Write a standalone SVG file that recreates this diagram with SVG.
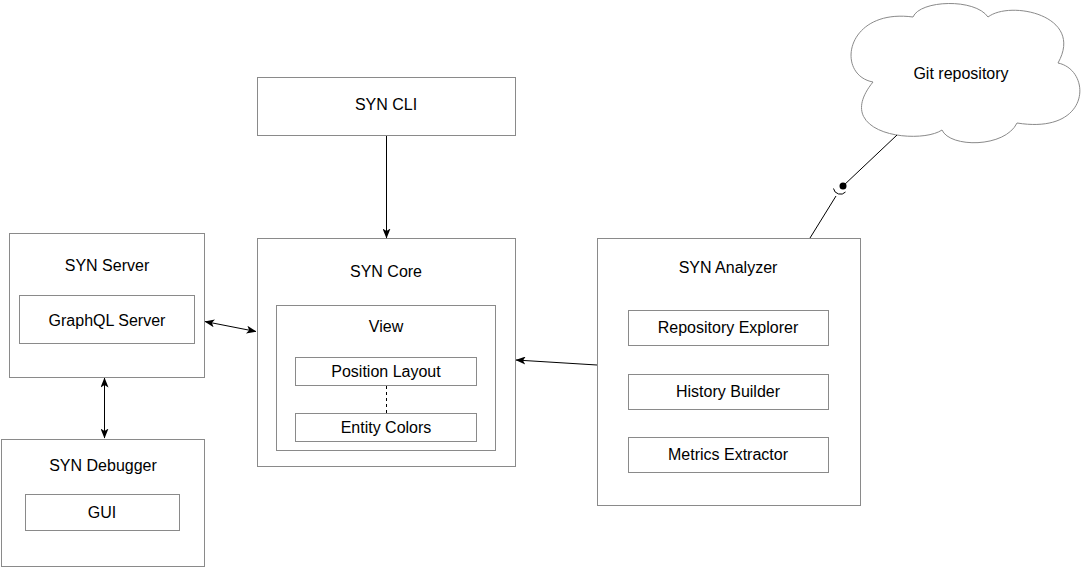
<svg xmlns="http://www.w3.org/2000/svg" width="1084" height="567" viewBox="0 0 1084 567">
<style>
.box{fill:#fff;stroke:#8a8a8a;stroke-width:1}
.t{font-family:"Liberation Sans",Arial,sans-serif;font-size:16px;fill:#000;text-anchor:middle}
.ln{fill:none;stroke:#000;stroke-width:1}
</style>
<defs>
<marker id="ah" markerUnits="userSpaceOnUse" markerWidth="10" markerHeight="8" viewBox="0 0 10 8" refX="9.5" refY="4" orient="auto-start-reverse">
<path d="M0,0 L10,4 L0,8 L2.5,4 z" fill="#000"/>
</marker>
</defs>
<rect width="1084" height="567" fill="#fff"/>
<g id="syn-cli">
<rect class="box" x="257.5" y="77.5" width="258" height="58"/>
<text class="t" x="386" y="110">SYN CLI</text>
</g>
<g id="syn-server">
<rect class="box" x="9.5" y="233.5" width="195" height="144"/>
<text class="t" x="107" y="271">SYN Server</text>
<rect class="box" x="19.5" y="295.5" width="175" height="48"/>
<text class="t" x="107" y="326">GraphQL Server</text>
</g>
<g id="syn-debugger">
<rect class="box" x="1.5" y="439.5" width="203" height="127"/>
<text class="t" x="103" y="471">SYN Debugger</text>
<rect class="box" x="25.5" y="494.5" width="154" height="36"/>
<text class="t" x="102" y="518">GUI</text>
</g>
<g id="syn-core">
<rect class="box" x="257.5" y="238.5" width="258" height="228"/>
<text class="t" x="386" y="277">SYN Core</text>
<rect class="box" x="276.5" y="305.5" width="219" height="145"/>
<text class="t" x="386" y="332">View</text>
<rect class="box" x="295.5" y="357.5" width="181" height="28"/>
<text class="t" x="386" y="377">Position Layout</text>
<rect class="box" x="295.5" y="413.5" width="181" height="28"/>
<text class="t" x="386" y="433">Entity Colors</text>
</g>
<g id="syn-analyzer">
<rect class="box" x="597.5" y="238.5" width="263" height="267"/>
<text class="t" x="728" y="273">SYN Analyzer</text>
<rect class="box" x="628.5" y="310.5" width="200" height="35"/>
<text class="t" x="728" y="333">Repository Explorer</text>
<rect class="box" x="628.5" y="374.5" width="200" height="35"/>
<text class="t" x="728" y="397">History Builder</text>
<rect class="box" x="628.5" y="437.5" width="200" height="35"/>
<text class="t" x="728" y="460">Metrics Extractor</text>
</g>
<g id="git-repository">
<path d="M913,17 C920,0 975,-2 988,17 C1010,0 1085,15 1058,63 C1092,70 1092,135 1017,123 C1005,148 950,148 942,130 C920,145 830,135 873,82 C835,75 845,8 913,17 Z" fill="#fff" stroke="#8a8a8a" stroke-width="1"/>
<text class="t" x="961" y="79">Git repository</text>
</g>
<g id="connectors">
<line class="ln" x1="386.5" y1="136" x2="386.5" y2="238" marker-end="url(#ah)"/>
<line class="ln" x1="597" y1="365" x2="516" y2="360" marker-end="url(#ah)"/>
<line class="ln" x1="205" y1="321.5" x2="256" y2="331.5" marker-start="url(#ah)" marker-end="url(#ah)"/>
<line class="ln" x1="104.5" y1="378" x2="104.5" y2="438" marker-start="url(#ah)" marker-end="url(#ah)"/>
<line class="ln" x1="386.5" y1="386" x2="386.5" y2="413" stroke-dasharray="3,3"/>
<line class="ln" x1="897" y1="135" x2="843" y2="186"/>
<circle cx="843" cy="186" r="3.5" fill="#000"/>
<path class="ln" d="M833.5,188.5 A7 7 0 0 0 845.5,192"/>
<line class="ln" x1="836" y1="196" x2="810" y2="238"/>
</g>
</svg>
